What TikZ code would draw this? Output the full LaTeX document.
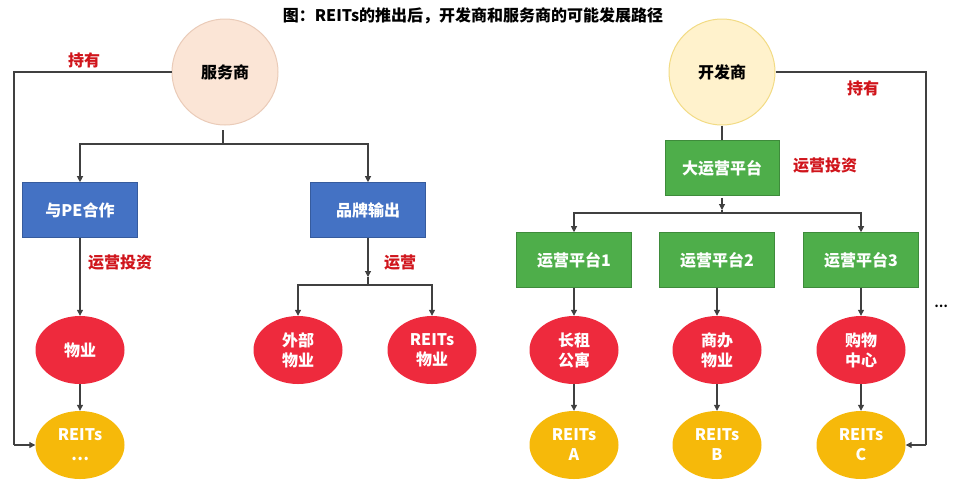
\documentclass[tikz,border=0pt]{standalone}
\usepackage{fontspec}
\setmainfont{Noto Sans CJK SC}
\usetikzlibrary{arrows.meta,shapes.geometric}
\definecolor{peach}{HTML}{FBE5D6}
\definecolor{peachline}{HTML}{EACBB8}
\definecolor{lyellow}{HTML}{FFF2CC}
\definecolor{yline}{HTML}{F2DB84}
\definecolor{boxblue}{HTML}{4472C4}
\definecolor{boxgreen}{HTML}{4EAE4A}
\definecolor{ellred}{HTML}{EE2A3D}
\definecolor{ellgold}{HTML}{F6B90A}
\definecolor{lblred}{HTML}{D0151C}
\definecolor{linegray}{HTML}{404040}
\tikzset{
  circ/.style={circle,minimum size=106pt,inner sep=0pt,line width=1pt,font=\fontsize{16}{18}\selectfont\bfseries},
  bbox/.style={rectangle,fill=boxblue,draw=boxblue!80!black,line width=0.6pt,minimum width=115pt,minimum height=55pt,inner sep=0pt,text=white,font=\fontsize{16}{18}\selectfont\bfseries},
  gbox/.style={bbox,fill=boxgreen,draw=boxgreen!80!black},
  rell/.style={ellipse,fill=ellred,minimum width=89pt,minimum height=68pt,inner sep=0pt,text=white,align=center,font=\fontsize{16}{20}\selectfont\bfseries},
  yell/.style={rell,fill=ellgold},
  lbl/.style={text=lblred,font=\fontsize{16}{18}\selectfont\bfseries},
  conn/.style={draw=linegray,line width=1.1pt},
  arr/.style={conn,-{Triangle[length=6pt,width=6pt]}},
}
\begin{document}
\begin{tikzpicture}[x=1pt,y=-1pt]
\useasboundingbox (0,0) rectangle (960,483);
\node[font=\fontsize{16}{18}\selectfont\bfseries] (title) at (473,16) {图：REITs的推出后，开发商和服务商的可能发展路径};

% left: 服务商
\node[circ,fill=peach,draw=peachline] (fws) at (225,72) {服务商};
\node[lbl] (hold1) at (84,60) {持有};
\node[bbox] (pe) at (80,210) {与PE合作};
\node[bbox] (pp) at (368,210) {品牌输出};
\node[rell] (wy) at (80,350) {物业};
\node[yell] (r0) at (80,445) {REITs\\…};
\node[rell] (wb) at (298,350) {外部\\物业};
\node[rell] (rw) at (432,350) {REITs\\物业};
\node[lbl] (l1) at (120,263) {运营投资};
\node[lbl] (l2) at (400,263) {运营};

\coordinate (t1) at (223,130);
\coordinate (j1) at (223,144);
\coordinate (k1) at (14,72);
\coordinate (k2) at (14,445);
\draw[conn] (t1) -- (j1);
\draw[arr] (j1) -| (pe.north);
\draw[arr] (j1) -| (pp.north);
\draw[arr] (pe.south) -- (wy.north);
\draw[arr] (wy.south) -- (r0.north);
\draw[conn] (fws.west) -- (k1) -- (k2);
\draw[arr] (k2) -- (r0.west);
\coordinate (j2) at (368,285);
\coordinate (j2a) at (368,277);
\draw[arr] (pp.south) -- (j2a);
\draw[conn] (j2a) -- (j2);
\draw[arr] (j2) -| (wb.north);
\draw[arr] (j2) -| (rw.north);

% right: 开发商
\node[circ,fill=lyellow,draw=yline] (kfs) at (722,72) {开发商};
\node[lbl] (hold2) at (863,88) {持有};
\node[gbox,minimum width=114pt] (big) at (722,168) {大运营平台};
\node[lbl] (l3) at (825,166) {运营投资};
\node[gbox] (p1) at (574,260) {运营平台1};
\node[gbox] (p2) at (717,260) {运营平台2};
\node[gbox] (p3) at (861,260) {运营平台3};
\node[rell] (e1) at (574,350) {长租\\公寓};
\node[rell] (e2) at (717,350) {商办\\物业};
\node[rell] (e3) at (861,350) {购物\\中心};
\node[yell] (ra) at (574,445) {REITs\\A};
\node[yell] (rb) at (717,445) {REITs\\B};
\node[yell] (rc) at (861,445) {REITs\\C};
\node[font=\fontsize{12}{14}\selectfont\bfseries] (dots) at (941,306) {…};

\draw[conn] (kfs.south) -- (big.north);
\coordinate (j3a) at (722,210);
\coordinate (j3) at (722,213);
\draw[arr] (big.south) ++(0,2) -- (j3a);
\draw[conn] (j3a) -- (j3);
\draw[arr] (j3) -| (p1.north);
\draw[arr] (j3) -| (p3.north);
\draw[arr] (p1.south) -- (e1.north);
\draw[arr] (p2.south) -- (e2.north);
\draw[arr] (p3.south) -- (e3.north);
\draw[arr] (e1.south) -- (ra.north);
\draw[arr] (e2.south) -- (rb.north);
\draw[arr] (e3.south) -- (rc.north);
\coordinate (k3) at (926,72);
\coordinate (k4) at (926,445);
\draw[conn] (kfs.east) -- (k3) -- (k4);
\draw[arr] (k4) -- (rc.east);
\end{tikzpicture}
\end{document}
